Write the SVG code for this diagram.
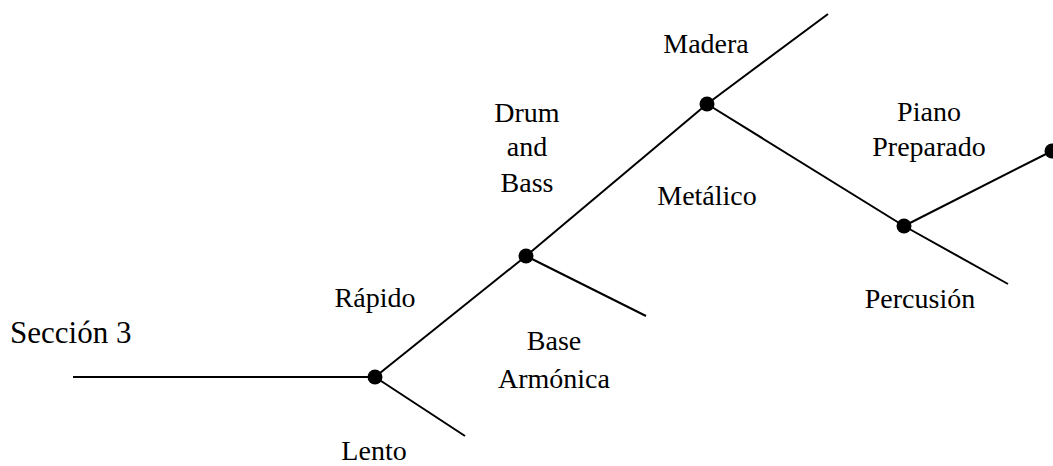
<svg xmlns="http://www.w3.org/2000/svg" width="1053" height="466" viewBox="0 0 1053 466">
<style>
.l{stroke:#000;stroke-width:2;fill:none}
.d{fill:#000}
.t{font-family:"Liberation Serif","Times New Roman",serif;font-size:28px;fill:#000;text-anchor:middle}
</style>
<rect width="1053" height="466" fill="#fff"/>
<g id="connectors">
<line class="l" x1="73" y1="377" x2="375" y2="377"/>
<line class="l" x1="375" y1="377" x2="465" y2="436"/>
<line class="l" x1="375" y1="377" x2="526" y2="256"/>
<line class="l" x1="526" y1="256" x2="646" y2="316"/>
<line class="l" x1="526" y1="256" x2="707" y2="104"/>
<line class="l" x1="707" y1="104" x2="828" y2="14"/>
<line class="l" x1="707" y1="104" x2="904" y2="226"/>
<line class="l" x1="904" y1="226" x2="1008" y2="284"/>
<line class="l" x1="904" y1="226" x2="1052" y2="151"/>
</g>
<g id="n1"><circle class="d" cx="375" cy="377" r="7.5"/></g>
<g id="n2"><circle class="d" cx="526" cy="256" r="7.5"/></g>
<g id="n3"><circle class="d" cx="707" cy="104" r="7.5"/></g>
<g id="n4"><circle class="d" cx="904" cy="226" r="7.5"/></g>
<g id="n5"><circle class="d" cx="1052" cy="151" r="7.5"/></g>
<g id="labels">
<text x="10" y="343" style="font-family:'Liberation Serif','Times New Roman',serif;font-size:31px">Sección 3</text>
<text class="t" x="375" y="307">Rápido</text>
<text class="t" x="374" y="460">Lento</text>
<text class="t" x="527" y="122">Drum</text>
<text class="t" x="527" y="156">and</text>
<text class="t" x="527" y="192">Bass</text>
<text class="t" x="554" y="350">Base</text>
<text class="t" x="554" y="388">Armónica</text>
<text class="t" x="706" y="53">Madera</text>
<text class="t" x="707" y="205">Metálico</text>
<text class="t" x="929" y="121">Piano</text>
<text class="t" x="929" y="156">Preparado</text>
<text class="t" x="920" y="308">Percusión</text>
</g>
</svg>
